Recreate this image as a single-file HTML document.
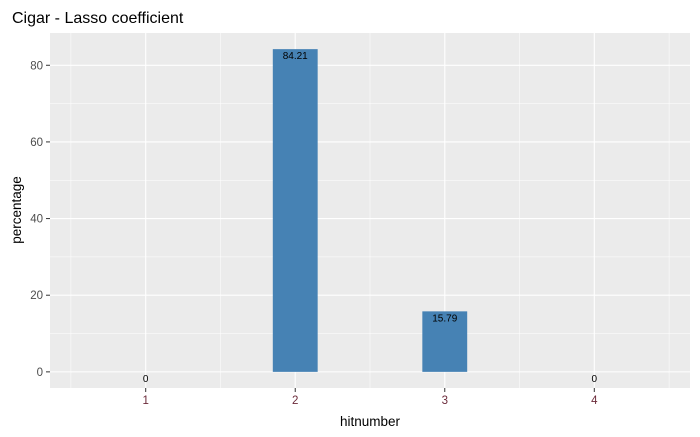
<!DOCTYPE html>
<html><head><style>body{margin:0;background:#fff}svg{font-family:"Liberation Sans",sans-serif}</style></head>
<body>
<svg width="700" height="432">
<text x="12" y="23" font-size="16" fill="#000">Cigar - Lasso coefficient</text>
<rect x="50" y="33" width="640" height="355" fill="#ebebeb"/>
<g id="grid"></g><g id="bars"></g><g id="axes"></g>
<text x="370" y="426" font-size="13.5" text-anchor="middle" fill="#000">hitnumber</text>
<text transform="translate(21,210) rotate(-90)" font-size="13.5" text-anchor="middle" fill="#000">percentage</text>
</svg>
<script>
const categories=[1,2,3,4];
const values=[0,84.21,15.79,0];
const labels=["0","84.21","15.79","0"];
const yTicks=[0,20,40,60,80];
const ns="http://www.w3.org/2000/svg";
const X0=50,X1=690,Y0=388,Y1=33;
const xmin=0.36,xmax=4.64,ymin=-4.21,ymax=88.42;
const xs=v=>X0+(v-xmin)/(xmax-xmin)*(X1-X0);
const ys=v=>Y0-(v-ymin)/(ymax-ymin)*(Y0-Y1);
function mk(t,a,p){const e=document.createElementNS(ns,t);for(const k in a)e.setAttribute(k,a[k]);document.getElementById(p).appendChild(e);return e;}
for(let v=0;v<=85;v+=10){const l=mk('line',{x1:X0,x2:X1,y1:ys(v),y2:ys(v),stroke:'#fff','stroke-width':v%20==0?1.1:0.5},'grid');

}
for(let v=0.5;v<=4.5;v+=0.5){const l=mk('line',{x1:xs(v),x2:xs(v),y1:Y1,y2:Y0,stroke:'#fff','stroke-width':Number.isInteger(v)?1.1:0.5},'grid');

}
categories.forEach((c,i)=>{
const y=ys(Math.max(values[i],0)),yb=ys(0);
const r=mk('rect',{x:xs(c-0.15),y:y,width:xs(c+0.15)-xs(c-0.15),height:Math.max(0,yb-y),fill:'#4682b4'},'bars');


const t=mk('text',{x:xs(c),y:y+10,'font-size':10,'text-anchor':'middle',fill:'#000'},'bars');t.textContent=labels[i];


const tk=mk('line',{x1:xs(c),x2:xs(c),y1:Y0,y2:Y0+4,stroke:'#333'},'axes');


const tl=mk('text',{x:xs(c),y:Y0+16,'font-size':11.5,'text-anchor':'middle',fill:'#6b2a3a'},'axes');tl.textContent=c;

});
yTicks.forEach(v=>{const tk=mk('line',{x1:X0-4,x2:X0,y1:ys(v),y2:ys(v),stroke:'#333'},'axes');


const tl=mk('text',{x:X0-7,y:ys(v)+4,'font-size':11.5,'text-anchor':'end',fill:'#4d4d4d'},'axes');tl.textContent=v;

});
</script>
</body></html>
